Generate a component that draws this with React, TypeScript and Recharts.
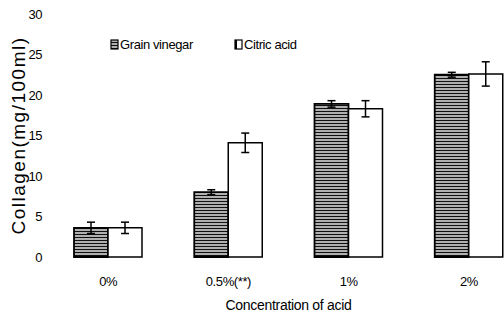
import React from 'react';
import { BarChart, Bar, XAxis, YAxis, ErrorBar, Customized } from 'recharts';

const categories = ['0%', '0.5%(**)', '1%', '2%'];
const grainVinegar = [3.6, 8.0, 18.9, 22.5];
const grainVinegarErr = [0.7, 0.3, 0.4, 0.3];
const citricAcid = [3.6, 14.1, 18.3, 22.6];
const citricAcidErr = [0.7, 1.2, 1.0, 1.5];
const yTicks = [0, 5, 10, 15, 20, 25, 30];

const data = categories.map((c, i) => ({
  name: c,
  grain: grainVinegar[i],
  grainErr: grainVinegarErr[i],
  citric: citricAcid[i],
  citricErr: citricAcidErr[i],
}));

const FONT = '"Liberation Sans", Arial, sans-serif';

const LegendSvg = () => (
  <g fontFamily={FONT} fontSize={13} fill="#000">
    <rect x={111} y={40} width={7} height={9} fill="url(#hatch)" stroke="#000" strokeWidth={1.2} />
    <text x={120} y={49} letterSpacing={-0.4}>Grain vinegar</text>
    <rect x={235} y={40} width={7} height={9} fill="#fff" stroke="#000" strokeWidth={1.2} />
    <line x1={236} y1={40} x2={236} y2={49} stroke="#000" strokeWidth={2} />
    <text x={244} y={49} letterSpacing={-0.4}>Citric acid</text>
  </g>
);

export default function App() {
  return (
    <div style={{ position: 'absolute', left: 0, top: 0, width: 504, height: 320, overflow: 'hidden', background: '#fff' }}>
      <BarChart
        width={560}
        height={320}
        data={data}
        margin={{ top: 14, right: 31, left: 0, bottom: 0 }}
        barGap={0}
        barSize={34}
      >
        <defs>
          <pattern id="hatch" patternUnits="userSpaceOnUse" width={4} height={3}>
            <rect x={0} y={0} width={4} height={3} fill="#b0b0b0" />
            <rect x={0} y={0} width={4} height={1} fill="#111" />
          </pattern>
        </defs>
        <XAxis
          dataKey="name"
          axisLine={false}
          tickLine={false}
          tickSize={0}
          tickMargin={20}
          height={63}
          interval={0}
          tick={{ fill: '#000', fontSize: 13, fontFamily: FONT, letterSpacing: -0.4 }}
          label={{ value: 'Concentration of acid', position: 'insideBottom', offset: 10, fill: '#000', fontSize: 14, fontFamily: FONT, letterSpacing: -0.3 }}
        />
        <YAxis
          domain={[0, 30]}
          ticks={yTicks}
          axisLine={false}
          tickLine={false}
          tickSize={0}
          tickMargin={6}
          width={48}
          tick={{ fill: '#000', fontSize: 13, fontFamily: FONT, letterSpacing: -0.5 }}
          label={{ value: 'Collagen(mg/100ml)', angle: -90, position: 'insideLeft', offset: 18, fill: '#000', fontSize: 19, fontFamily: FONT, letterSpacing: 1.5, style: { textAnchor: 'middle' } }}
        />
        <Bar dataKey="grain" fill="url(#hatch)" stroke="#000" strokeWidth={1.8} isAnimationActive={false}>
          <ErrorBar dataKey="grainErr" width={4} stroke="#000" strokeWidth={1.5} />
        </Bar>
        <Bar dataKey="citric" fill="#fff" stroke="#000" strokeWidth={1.5} isAnimationActive={false}>
          <ErrorBar dataKey="citricErr" width={4} stroke="#000" strokeWidth={1.5} />
        </Bar>
        <Customized component={LegendSvg} />
      </BarChart>
    </div>
  );
}
